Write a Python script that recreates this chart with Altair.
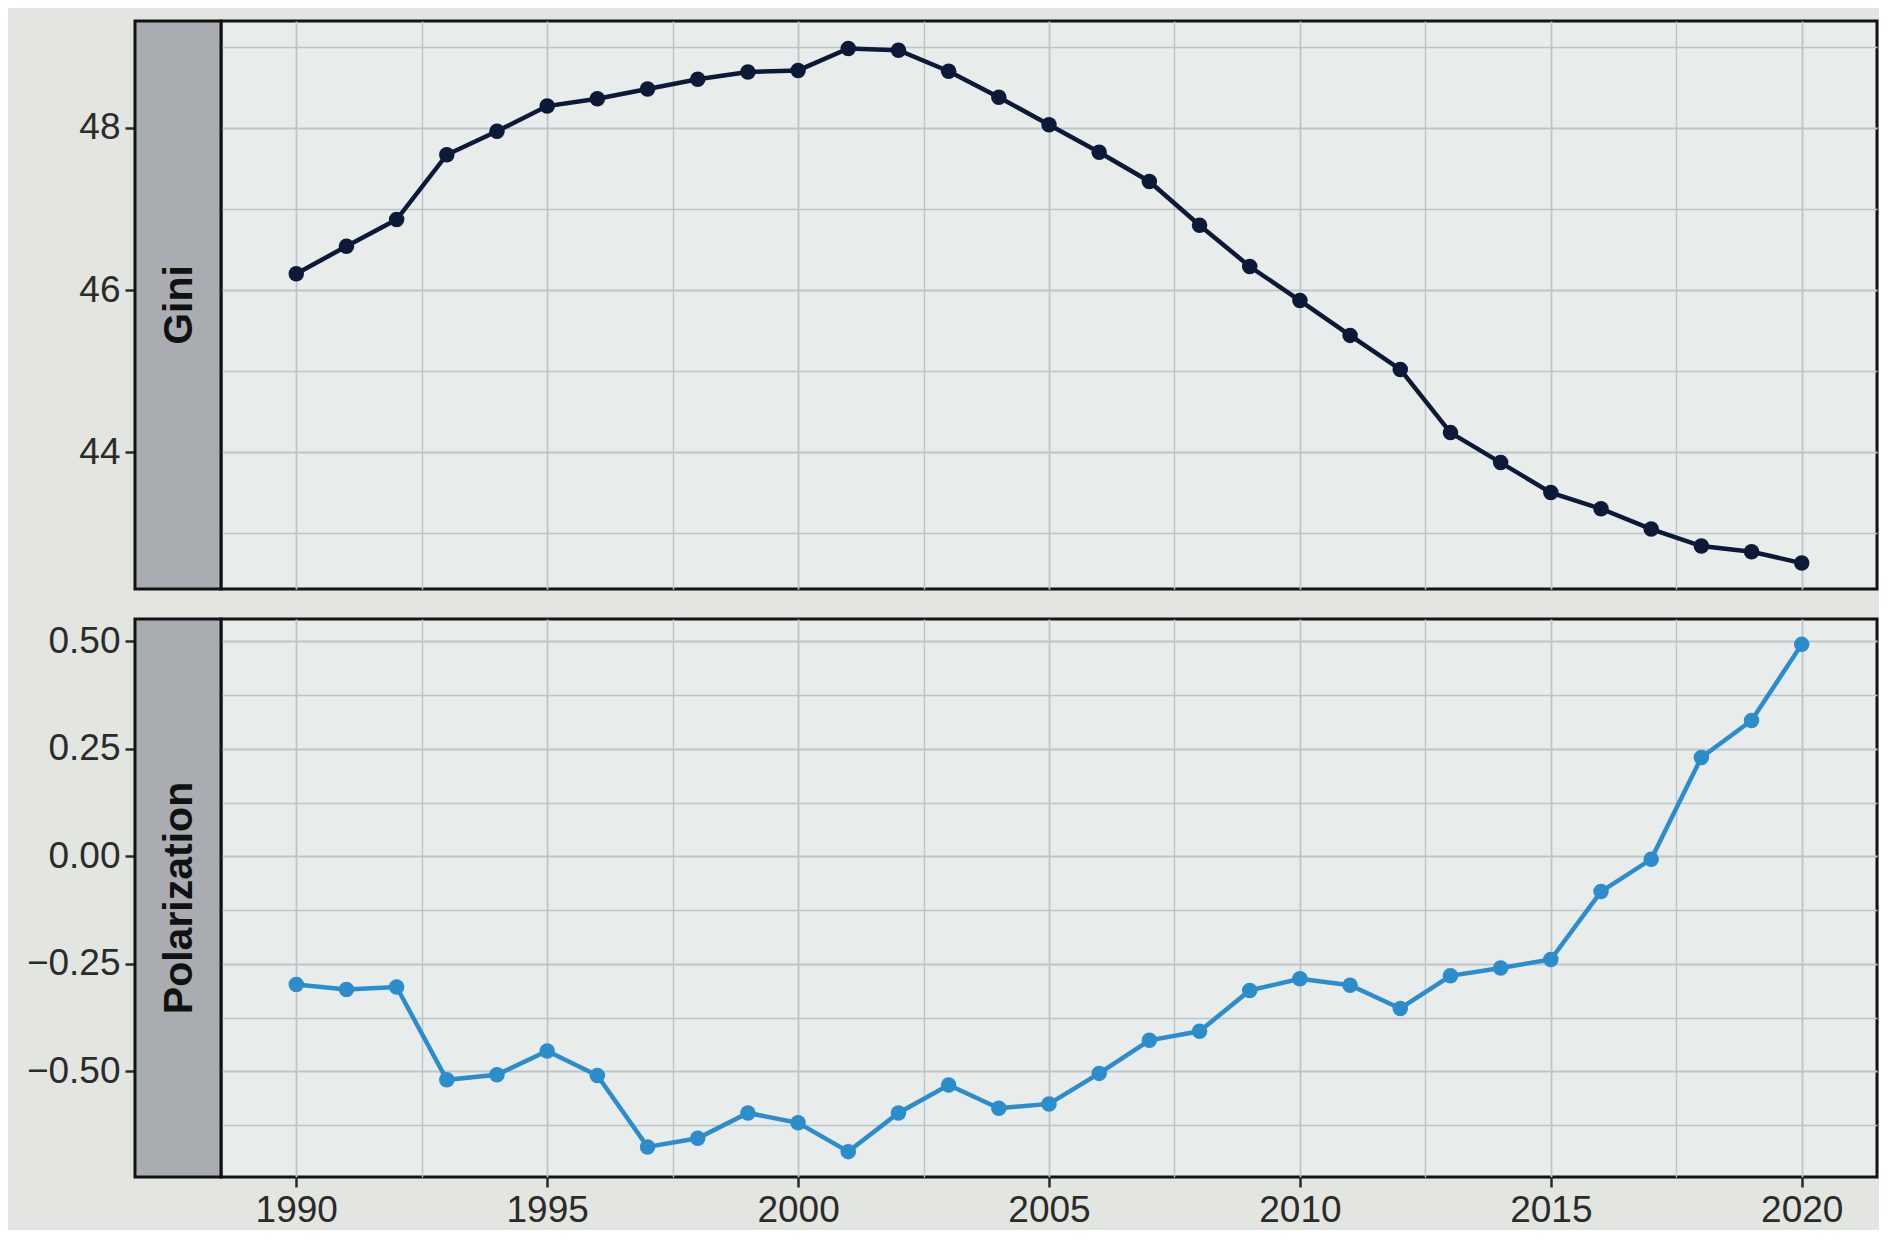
import altair as alt
import pandas as pd

years = list(range(1990, 2021))
gini = [46.20, 46.54, 46.87, 47.67, 47.96, 48.27, 48.36, 48.48, 48.60, 48.69,
        48.71, 48.98, 48.96, 48.70, 48.38, 48.04, 47.70, 47.34, 46.80, 46.29,
        45.87, 45.44, 45.02, 44.24, 43.87, 43.50, 43.30, 43.05, 42.84, 42.77,
        42.63]
polarization = [-0.298, -0.310, -0.304, -0.520, -0.508, -0.453, -0.510, -0.676,
                -0.656, -0.597, -0.620, -0.687, -0.597, -0.532, -0.586, -0.576,
                -0.505, -0.428, -0.407, -0.312, -0.285, -0.300, -0.354, -0.278,
                -0.260, -0.240, -0.082, -0.007, 0.230, 0.316, 0.493]

x_grid = [1990 + 2.5 * i for i in range(13)]
gini_grid = [43, 44, 45, 46, 47, 48, 49]
pol_grid = [-0.625, -0.5, -0.375, -0.25, -0.125, 0.0, 0.125, 0.25, 0.375, 0.5]

df = pd.DataFrame({"year": years, "Gini": gini, "Polarization": polarization})

W = 1656
H1 = 568
H2 = 558
STRIP = 86
FONT = "Liberation Sans"
GRID_COLOR = "#bcc6c9"
TICK_COLOR = "#2a2a2a"
LABEL_SIZE = 37

x_scale = alt.Scale(domain=[1988.5, 2021.5], nice=False, zero=False)


def strip_layers(label, h):
    sd = alt.Data(values=[{"label": label}])
    rect = alt.Chart(sd).mark_rect(
        fill="#a9adb1", stroke="#121212", strokeWidth=3
    ).encode(
        x=alt.value(-STRIP), x2=alt.value(0), y=alt.value(0), y2=alt.value(h)
    )
    txt = alt.Chart(sd).mark_text(
        angle=270, font=FONT, fontSize=41, fontWeight="bold", color="#111111",
        align="center", baseline="middle"
    ).encode(
        x=alt.value(-STRIP / 2 + 2), y=alt.value(h / 2), text="label:N"
    )
    return rect, txt


def y_axis(values, major_test, label_expr):
    return alt.Axis(
        values=values, title=None, orient="left", offset=STRIP, domain=False,
        grid=True, gridColor=GRID_COLOR,
        gridWidth={"condition": {"test": major_test, "value": 1.8}, "value": 1.4},
        ticks=True, tickSize=10, tickColor=TICK_COLOR, tickWidth=2.5,
        tickOpacity={"condition": {"test": major_test, "value": 1}, "value": 0},
        labelExpr=label_expr, labelFont=FONT, labelFontSize=LABEL_SIZE,
        labelColor="#2b2b2b", labelPadding=5, labelOverlap=False,
        labelFlush=False,
    )


x_major = "datum.value % 5 == 0"

x_axis_top = alt.Axis(
    values=x_grid, title=None, labels=False, ticks=False, domain=False,
    grid=True, gridColor=GRID_COLOR,
    gridWidth={"condition": {"test": x_major, "value": 1.8}, "value": 1.4},
)

x_axis_bottom = alt.Axis(
    values=x_grid, title=None, domain=False, grid=True, gridColor=GRID_COLOR,
    gridWidth={"condition": {"test": x_major, "value": 1.8}, "value": 1.4},
    ticks=True, tickSize=10, tickColor=TICK_COLOR, tickWidth=2.5,
    tickOpacity={"condition": {"test": x_major, "value": 1}, "value": 0},
    labelExpr="datum.value % 5 == 0 ? format(datum.value, 'd') : ''",
    labelFont=FONT, labelFontSize=LABEL_SIZE, labelColor="#2b2b2b",
    labelPadding=5, labelOverlap=False, labelFlush=False,
)

gini_major = "datum.value % 2 == 0"
gini_line = alt.Chart(df).mark_line(
    color="#0c1a38", strokeWidth=4.5,
    point=alt.OverlayMarkDef(filled=True, size=240, color="#0c1a38", opacity=1),
).encode(
    x=alt.X("year:Q", scale=x_scale, axis=x_axis_top),
    y=alt.Y("Gini:Q", scale=alt.Scale(domain=[42.31, 49.32], nice=False, zero=False),
            axis=y_axis(gini_grid, gini_major,
                        "datum.value % 2 == 0 ? format(datum.value, 'd') : ''")),
)

pol_major = "abs(datum.value * 4 - round(datum.value * 4)) < 0.000001"
pol_line = alt.Chart(df).mark_line(
    color="#2b8dcc", strokeWidth=4.5,
    point=alt.OverlayMarkDef(filled=True, size=240, color="#2b8dcc", opacity=1),
).encode(
    x=alt.X("year:Q", scale=x_scale, axis=x_axis_bottom),
    y=alt.Y("Polarization:Q",
            scale=alt.Scale(domain=[-0.746, 0.552], nice=False, zero=False),
            axis=y_axis(pol_grid, pol_major,
                        "abs(datum.value * 4 - round(datum.value * 4)) < 0.000001 ? format(datum.value, '.2f') : ''")),
)

r1, t1 = strip_layers("Gini", H1)
r2, t2 = strip_layers("Polarization", H2)

top = alt.layer(gini_line, r1, t1).properties(width=W, height=H1)
bottom = alt.layer(pol_line, r2, t2).properties(width=W, height=H2)

chart = alt.vconcat(top, bottom, spacing=24).properties(
    background="#e3e5e1",
    padding={"left": 16, "top": 10, "right": 0, "bottom": 0},
).configure_view(
    stroke="#141414", strokeWidth=3, fill="#e8eceb"
)

chart.save("out.html", embed_options={"renderer": "svg", "actions": False})
